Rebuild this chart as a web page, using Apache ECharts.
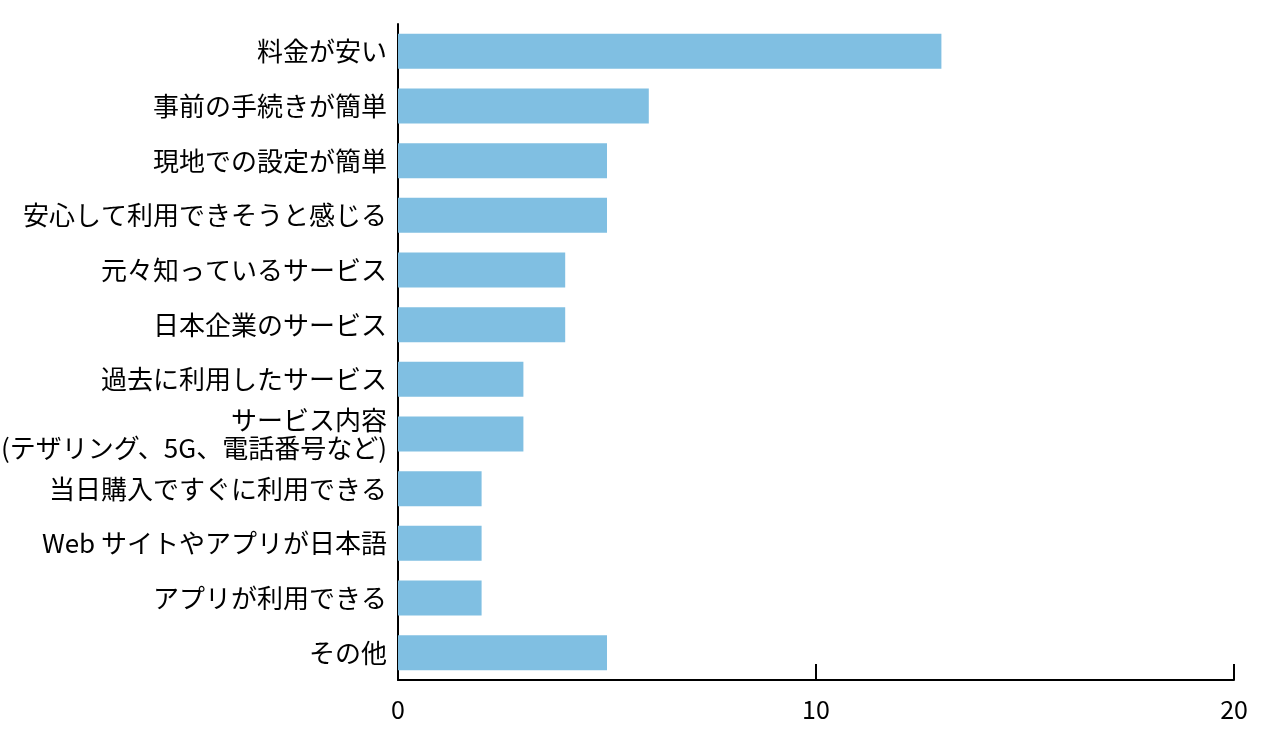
<!DOCTYPE html>
<html><head><meta charset="utf-8">
<script src="https://cdn.jsdelivr.net/npm/echarts@6/dist/echarts.min.js"></script>
<style>html,body{margin:0;padding:0;background:#fff}#c{width:1280px;height:740px}</style>
</head><body><div id="c"></div>
<script>
const categories = [
  "料金が安い",
  "事前の手続きが簡単",
  "現地での設定が簡単",
  "安心して利用できそうと感じる",
  "元々知っているサービス",
  "日本企業のサービス",
  "過去に利用したサービス",
  "サービス内容\n(テザリング、5G、電話番号など)",
  "当日購入ですぐに利用できる",
  "Web サイトやアプリが日本語",
  "アプリが利用できる",
  "その他"
];
const values = [13, 6, 5, 5, 4, 4, 3, 3, 2, 2, 2, 5];
const xTicks = { min: 0, max: 20, interval: 10 };

const font = '"Noto Sans CJK JP", "Noto Sans", sans-serif';
const chart = echarts.init(document.getElementById('c'));
chart.setOption({
  animation: false,
  grid: { left: 398, right: 46, top: 24, bottom: 60, containLabel: false, outerBoundsMode: 'none' },
  xAxis: {
    type: 'value', min: xTicks.min, max: xTicks.max, interval: xTicks.interval,
    splitLine: { show: false },
    axisLine: { show: true, lineStyle: { color: '#000', width: 2 } },
    axisTick: { show: true, inside: true, length: 16, lineStyle: { color: '#000', width: 2 } },
    axisLabel: { color: '#000', fontSize: 25, fontFamily: font, margin: 17 }
  },
  yAxis: {
    type: 'category', data: categories, inverse: true,
    axisLine: { show: true, lineStyle: { color: '#000', width: 2 } },
    axisTick: { show: false },
    axisLabel: { color: '#000', fontSize: 26, fontFamily: font, margin: 11, lineHeight: 28, align: 'right' }
  },
  series: [{
    type: 'bar', data: values, barCategoryGap: '36%',
    itemStyle: { color: '#80BFE2' }
  }]
});
</script></body></html>
